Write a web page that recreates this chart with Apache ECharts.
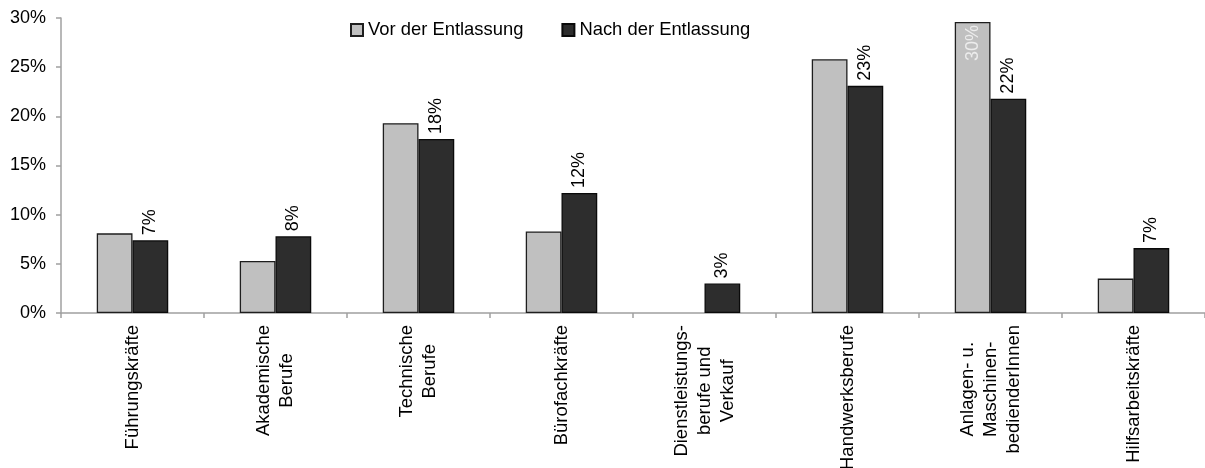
<!DOCTYPE html>
<html>
<head>
<meta charset="utf-8">
<script src="https://cdn.jsdelivr.net/npm/echarts@6/dist/echarts.min.js"></script>
<style>
html,body{margin:0;padding:0;background:#fff;}
#c{width:1205px;height:468px;}
</style>
</head>
<body>
<div id="c"></div>
<script>
const categories = [
  "Führungskräfte",
  "Akademische\nBerufe",
  "Technische\nBerufe",
  "Bürofachkräfte",
  "Dienstleistungs-\nberufe und\nVerkauf",
  "Handwerksberufe",
  "Anlagen- u.\nMaschinen-\nbedienderInnen",
  "Hilfsarbeitskräfte"
];
const seriesNames = ["Vor der Entlassung", "Nach der Entlassung"];
const vorValues = [8.1, 5.3, 19.3, 8.3, null, 25.8, 29.6, 3.5];
const nachValues = [7.4, 7.8, 17.7, 12.2, 3.0, 23.1, 21.8, 6.6];
const vorLabelIndex = [6]; // only this gray bar carries a label
const yTicks = { min: 0, max: 30, interval: 5 };

const FONT = "Liberation Sans";
const chart = echarts.init(document.getElementById('c'), null, { renderer: 'canvas' });

const pctFmt = v => Math.round(v) + '%';

const vorData = vorValues.map((v, i) => {
  if (vorLabelIndex.indexOf(i) >= 0) {
    return {
      value: v,
      label: {
        show: true, position: 'insideTop', distance: 3, rotate: 90,
        align: 'right', verticalAlign: 'middle',
        color: '#ececec', fontFamily: FONT, fontSize: 18,
        formatter: p => pctFmt(p.value)
      }
    };
  }
  return v;
});

chart.setOption({
  animation: false,
  textStyle: { fontFamily: FONT },
  legend: {
    top: 16, left: 345,
    itemWidth: 12, itemHeight: 12, itemGap: 38,
    textStyle: { fontFamily: FONT, fontSize: 18.4, color: '#000' },
    data: seriesNames.map(n => ({ name: n, icon: 'rect' }))
  },
  grid: { left: 61, right: 0, top: 18, bottom: 155, containLabel: false, outerBoundsMode: 'none' },
  xAxis: {
    type: 'category',
    data: categories,
    axisLine: { lineStyle: { color: '#a0a0a0', width: 1.5 } },
    axisTick: { show: true, length: 5, lineStyle: { color: '#a0a0a0', width: 1.5 } },
    axisLabel: {
      interval: 0, rotate: 90, margin: 12,
      fontFamily: FONT, fontSize: 18.5, color: '#000', lineHeight: 23,
      formatter: v => v.split('\n').map(l => '{c|' + l + '}').join('\n'),
      rich: { c: { align: 'center', fontFamily: FONT, fontSize: 18.5, color: '#000', lineHeight: 23 } }
    }
  },
  yAxis: {
    type: 'value',
    min: yTicks.min, max: yTicks.max, interval: yTicks.interval,
    axisLine: { show: true, lineStyle: { color: '#a0a0a0', width: 1.5 } },
    axisTick: { show: true, length: 5, lineStyle: { color: '#a0a0a0', width: 1.5 } },
    splitLine: { show: false },
    axisLabel: { formatter: '{value}%', fontFamily: FONT, fontSize: 18, color: '#000', margin: 15 }
  },
  series: [
    {
      name: seriesNames[0], type: 'bar', data: vorData,
      barGap: '0%', barCategoryGap: '50%',
      itemStyle: { color: '#c0c0c0', borderColor: '#1e1e1e', borderWidth: 1.3 }
    },
    {
      name: seriesNames[1], type: 'bar', data: nachValues,
      barGap: '0%', barCategoryGap: '50%',
      itemStyle: { color: '#2d2d2d', borderColor: '#0a0a0a', borderWidth: 1.3 },
      label: {
        show: true, position: 'top', distance: 5, rotate: 90,
        align: 'left', verticalAlign: 'middle',
        color: '#000', fontFamily: FONT, fontSize: 18,
        formatter: p => pctFmt(p.value)
      }
    }
  ]
});
</script>
</body>
</html>
